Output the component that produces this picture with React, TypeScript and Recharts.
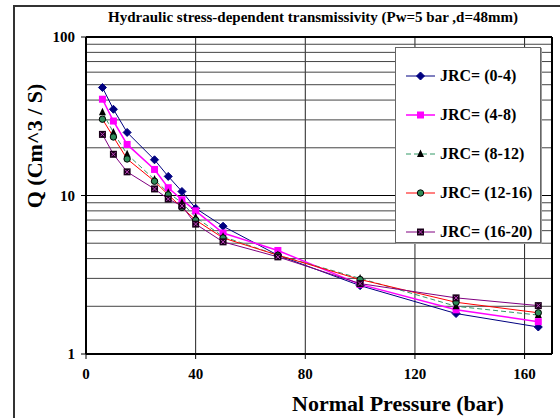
import {
  CartesianGrid,
  Legend,
  Line,
  LineChart,
  ReferenceLine,
  XAxis,
  YAxis,
} from "recharts";

const PRESSURE = [6, 10, 15, 25, 30, 35, 40, 50, 70, 100, 135, 165];
const JRC_0_4 = [48, 35, 25, 16.8, 13.2, 10.6, 8.3, 6.4, 4.2, 2.7, 1.8, 1.48];
const JRC_4_8 = [40.5, 29.5, 21, 14.6, 11.2, 9.4, 8.0, 5.8, 4.5, 2.75, 1.9, 1.6];
const JRC_8_12 = [33.5, 25, 18.2, 12.6, 10.4, 9.0, 7.3, 5.5, 4.2, 3.0, 2.0, 1.76];
const JRC_12_16 = [30.3, 23.4, 17, 12.3, 10.1, 8.4, 7.0, 5.4, 4.2, 2.95, 2.12, 1.82];
const JRC_16_20 = [24.3, 18.2, 14.1, 11.0, 9.5, 8.6, 6.6, 5.1, 4.1, 2.78, 2.26, 2.02];

const X_TICKS = [0, 40, 80, 120, 160];
const Y_TICKS = [1, 10, 100];
const MINOR_Y = [2, 3, 4, 5, 6, 7, 8, 9, 20, 30, 40, 50, 60, 70, 80, 90];

const FONT = '"Liberation Serif", "Times New Roman", serif';

type MarkerKind = "diamond" | "square" | "triangle" | "circle" | "xsquare";

interface SeriesDef {
  key: string;
  name: string;
  values: number[];
  color: string;
  dash?: string;
  width: number;
  marker: MarkerKind;
}

const SERIES: SeriesDef[] = [
  { key: "s0", name: "JRC= (0-4)", values: JRC_0_4, color: "#000080", width: 1, marker: "diamond" },
  { key: "s1", name: "JRC= (4-8)", values: JRC_4_8, color: "#ff00ff", width: 1.5, marker: "square" },
  { key: "s2", name: "JRC= (8-12)", values: JRC_8_12, color: "#339966", width: 1, dash: "5 3", marker: "triangle" },
  { key: "s3", name: "JRC= (12-16)", values: JRC_12_16, color: "#ff0000", width: 1, marker: "circle" },
  { key: "s4", name: "JRC= (16-20)", values: JRC_16_20, color: "#800080", width: 1, marker: "xsquare" },
];

const rows = PRESSURE.map((p, i) => {
  const row: Record<string, number> = { p };
  SERIES.forEach((s) => {
    row[s.key] = s.values[i];
  });
  return row;
});

const Marker = ({ kind, cx, cy }: { kind: MarkerKind; cx: number; cy: number }) => {
  switch (kind) {
    case "diamond":
      return (
        <polygon
          points={`${cx},${cy - 4} ${cx + 4},${cy} ${cx},${cy + 4} ${cx - 4},${cy}`}
          fill="#000080"
          stroke="#000080"
        />
      );
    case "square":
      return <rect x={cx - 3.5} y={cy - 3.5} width={7} height={7} fill="#ff00ff" />;
    case "triangle":
      return (
        <polygon
          points={`${cx},${cy - 4.5} ${cx + 3.5},${cy + 3} ${cx - 3.5},${cy + 3}`}
          fill="#000"
        />
      );
    case "circle":
      return <circle cx={cx} cy={cy} r={3.2} fill="#2e8b57" stroke="#000" strokeWidth={1} />;
    default:
      return (
        <g>
          <rect x={cx - 3.5} y={cy - 3.5} width={7} height={7} fill="#1a001a" />
          <path
            d={`M${cx - 2},${cy - 2}L${cx + 2},${cy + 2}M${cx + 2},${cy - 2}L${cx - 2},${cy + 2}`}
            stroke="#c040c0"
            strokeWidth={1}
          />
        </g>
      );
  }
};

const LegendBox = () => (
  <div
    style={{
      width: 146,
      height: 196,
      boxSizing: "border-box",
      border: "1px solid #666",
      boxShadow: "1px 1px 0 #999",
      background: "#fff",
      fontFamily: FONT,
      fontWeight: "bold",
      fontSize: 16,
      paddingTop: 9,
    }}
  >
    {SERIES.map((s) => (
      <div key={s.key} style={{ display: "flex", alignItems: "center", height: 38.8 }}>
        <svg width={44} height={12} style={{ flexShrink: 0 }}>
          <line
            x1={10}
            x2={39}
            y1={6}
            y2={6}
            stroke={s.color}
            strokeWidth={s.width}
            strokeDasharray={s.dash}
          />
          <Marker kind={s.marker} cx={24.5} cy={6} />
        </svg>
        <span style={{ color: "#000", whiteSpace: "nowrap" }}>{s.name}</span>
      </div>
    ))}
  </div>
);

const tickStyle = { fill: "#000", fontSize: 15, fontWeight: "bold", fontFamily: FONT };

export default function App() {
  return (
    <div style={{ position: "absolute", left: 0, top: 0, width: 560, height: 418, background: "#fff", overflow: "hidden" }}>
      <div
        style={{
          position: "absolute",
          left: 13,
          top: 5,
          width: 560,
          height: 420,
          borderLeft: "2px solid #333",
          borderTop: "2px solid #333",
        }}
      />
      <LineChart
        width={560}
        height={418}
        data={rows}
        margin={{ top: 37, right: 8, bottom: 34, left: 16 }}
        style={{ position: "absolute", left: 0, top: 0 }}
      >
        <CartesianGrid horizontal={false} stroke="#222" strokeOpacity={1} />
        {MINOR_Y.map((v) => (
          <ReferenceLine key={v} y={v} stroke="#444" strokeWidth={1} />
        ))}
        <ReferenceLine y={10} stroke="#000" strokeWidth={1} />
        <ReferenceLine y={100} stroke="#000" strokeWidth={2} />
        <ReferenceLine x={170} stroke="#000" strokeWidth={2} />
        <XAxis
          type="number"
          dataKey="p"
          domain={[0, 170]}
          ticks={X_TICKS}
          allowDataOverflow
          height={30}
          tickSize={5}
          tickMargin={9}
          axisLine={{ stroke: "#000", strokeWidth: 2 }}
          tickLine={{ stroke: "#000" }}
          tick={tickStyle}
        />
        <YAxis
          type="number"
          scale="log"
          domain={[1, 100]}
          ticks={Y_TICKS}
          allowDataOverflow
          width={70}
          tickSize={5}
          tickMargin={6}
          axisLine={{ stroke: "#000", strokeWidth: 2 }}
          tickLine={{ stroke: "#000" }}
          tick={tickStyle}
        />
        <Legend
          layout="horizontal"
          verticalAlign="middle"
          align="center"
          wrapperStyle={{ position: "absolute", left: 395, top: 47, width: 146, height: 196 }}
          content={() => <LegendBox />}
        />
        {SERIES.map((s) => (
          <Line
            key={s.key}
            type="linear"
            dataKey={s.key}
            name={s.name}
            stroke={s.color}
            strokeWidth={s.width}
            strokeDasharray={s.dash}
            isAnimationActive={false}
            dot={(props: any) => (
              <Marker key={`${s.key}-${props.index}`} kind={s.marker} cx={props.cx} cy={props.cy} />
            )}
            activeDot={false}
          />
        ))}
      </LineChart>
      <div
        style={{
          position: "absolute",
          left: 313,
          top: 9,
          transform: "translateX(-50%)",
          whiteSpace: "nowrap",
          fontFamily: FONT,
          fontWeight: "bold",
          fontSize: 15,
        }}
      >
        Hydraulic stress-dependent transmissivity (Pw=5 bar ,d=48mm)
      </div>
      <div
        style={{
          position: "absolute",
          left: 35,
          top: 146,
          transform: "translate(-50%, -50%) rotate(-90deg)",
          whiteSpace: "nowrap",
          fontFamily: FONT,
          fontWeight: "bold",
          fontSize: 22,
        }}
      >
        Q (Cm^3 / S)
      </div>
      <div
        style={{
          position: "absolute",
          left: 398,
          top: 404,
          transform: "translate(-50%, -50%)",
          whiteSpace: "nowrap",
          fontFamily: FONT,
          fontWeight: "bold",
          fontSize: 22,
        }}
      >
        Normal Pressure (bar)
      </div>
    </div>
  );
}
